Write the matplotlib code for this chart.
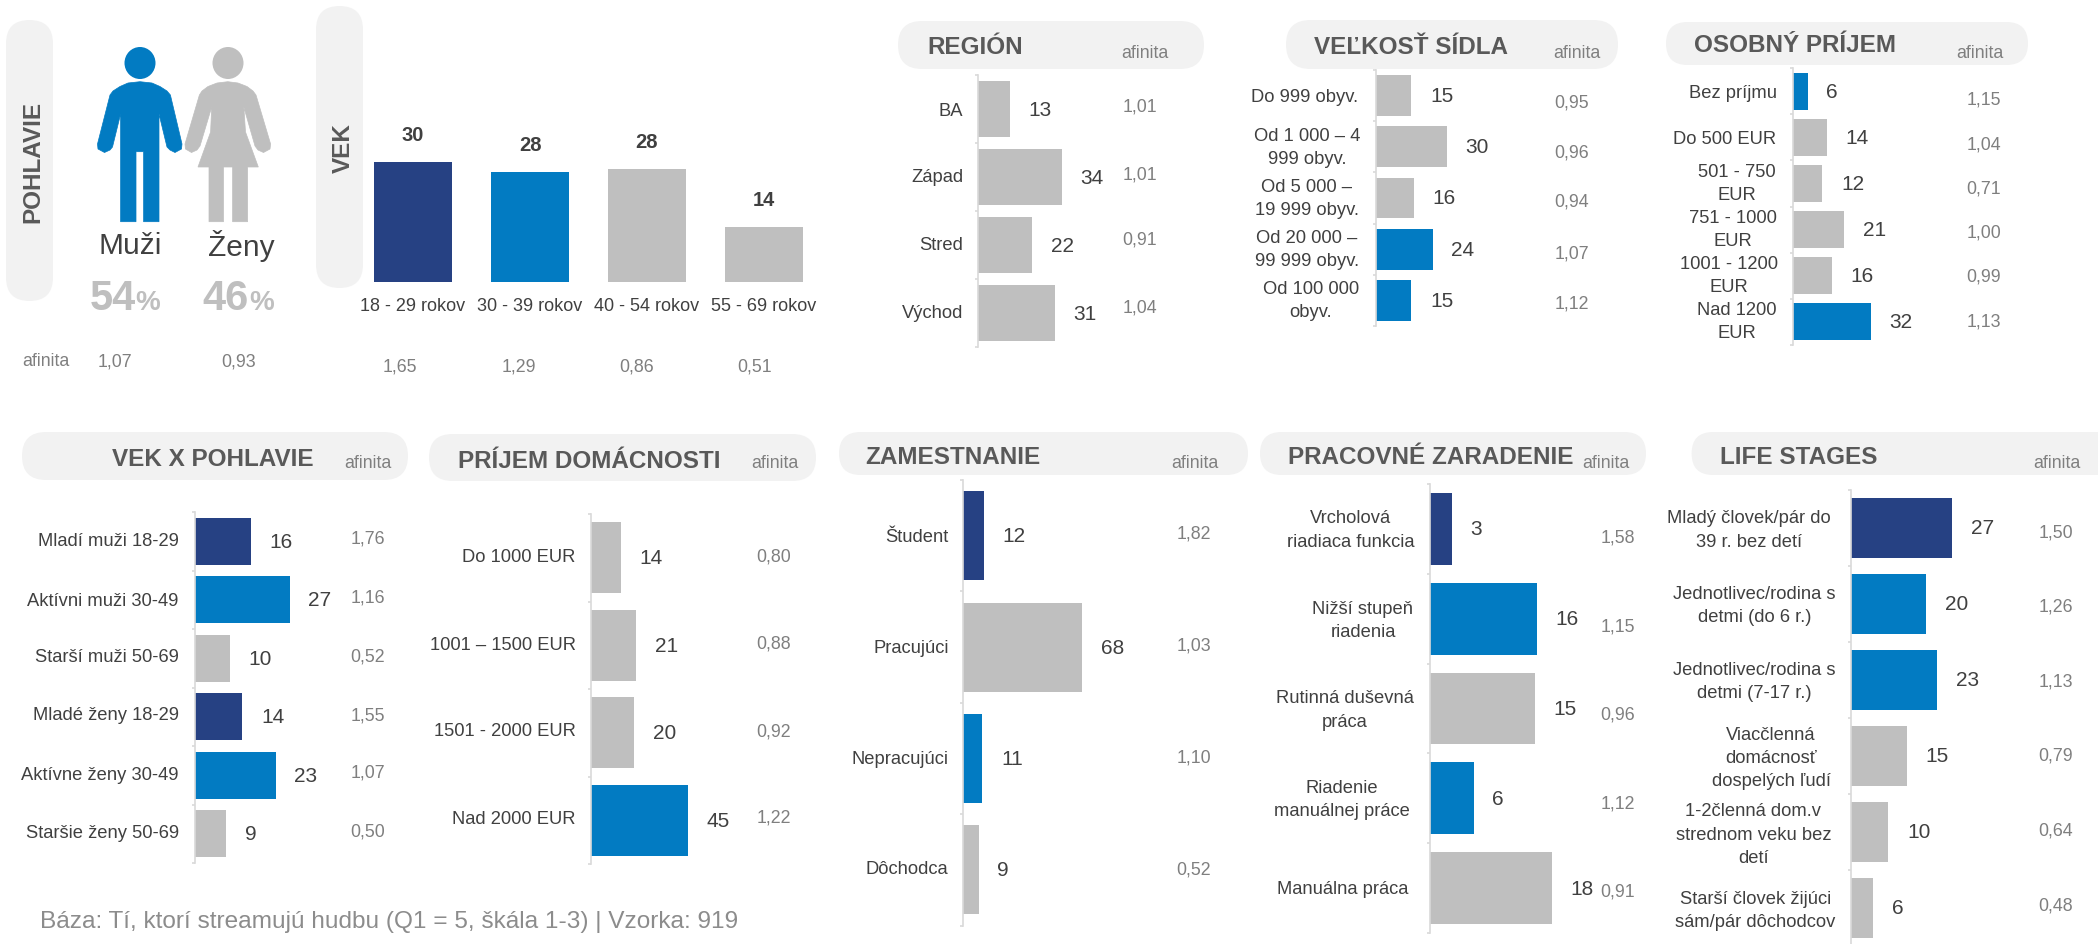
import matplotlib
matplotlib.use("Agg")
import matplotlib.pyplot as plt
from matplotlib.patches import FancyBboxPatch, Polygon, Ellipse

plt.rcParams['font.family'] = ['Liberation Sans', 'DejaVu Sans']

W, H = 2098, 945
NAVY, BLUE, GRAY = '#264183', '#027BC2', '#BFBFBF'
PILL, DARK, TITLE, MUTED, AXISC = '#F2F2F2', '#404040', '#595959', '#7F7F7F', '#D9D9D9'
C = {'n': NAVY, 'b': BLUE, 'g': GRAY}

# ---------- data ----------
gender_labels = ['Muži', 'Ženy']
gender_share = [54, 46]
gender_affinity = ['1,07', '0,93']

age_labels = ['18 - 29 rokov', '30 - 39 rokov', '40 - 54 rokov', '55 - 69 rokov']
age_values = [30, 27.6, 28.3, 13.8]
age_affinity = ['1,65', '1,29', '0,86', '0,51']
age_tone = list('nbgg')

region_labels = ['BA', 'Západ', 'Stred', 'Východ']
region_values = [13, 34, 22, 31]
region_affinity = ['1,01', '1,01', '0,91', '1,04']
region_tone = list('gggg')

town_labels = ['Do 999 obyv.', 'Od 1 000 – 4\n999 obyv.', 'Od 5 000 –\n19 999 obyv.',
               'Od 20 000 –\n99 999 obyv.', 'Od 100 000\nobyv.']
town_values = [15, 30, 16, 24, 15]
town_affinity = ['0,95', '0,96', '0,94', '1,07', '1,12']
town_tone = list('gggbb')

income_labels = ['Bez príjmu', 'Do 500 EUR', '501 - 750\nEUR', '751 - 1000\nEUR',
                 '1001 - 1200\nEUR', 'Nad 1200\nEUR']
income_values = [6, 14, 12, 21, 16, 32]
income_affinity = ['1,15', '1,04', '0,71', '1,00', '0,99', '1,13']
income_tone = list('bggggb')

agesex_labels = ['Mladí muži 18-29', 'Aktívni muži 30-49', 'Starší muži 50-69',
                 'Mladé ženy 18-29', 'Aktívne ženy 30-49', 'Staršie ženy 50-69']
agesex_values = [16, 27, 10, 13.5, 23, 9]
agesex_affinity = ['1,76', '1,16', '0,52', '1,55', '1,07', '0,50']
agesex_tone = list('nbgnbg')

household_labels = ['Do 1000 EUR', '1001 – 1500 EUR', '1501 - 2000 EUR', 'Nad 2000 EUR']
household_values = [14, 21, 20, 45]
household_affinity = ['0,80', '0,88', '0,92', '1,22']
household_tone = list('gggb')

job_labels = ['Študent', 'Pracujúci', 'Nepracujúci', 'Dôchodca']
job_values = [12, 68, 11, 9]
job_affinity = ['1,82', '1,03', '1,10', '0,52']
job_tone = list('ngbg')

position_labels = ['Vrcholová\nriadiaca funkcia', 'Nižší stupeň\nriadenia',
                   'Rutinná duševná\npráca', 'Riadenie\nmanuálnej práce', 'Manuálna práca']
position_values = [3.2, 15.7, 15.45, 6.4, 17.9]
position_affinity = ['1,58', '1,15', '0,96', '1,12', '0,91']
position_tone = list('nbgbg')

life_labels = ['Mladý človek/pár do\n39 r. bez detí', 'Jednotlivec/rodina s\ndetmi (do 6 r.)',
               'Jednotlivec/rodina s\ndetmi (7-17 r.)', 'Viacčlenná\ndomácnosť\ndospelých ľudí',
               '1-2členná dom.v\nstrednom veku bez\ndetí', 'Starší človek žijúci\nsám/pár dôchodcov']
life_values = [27, 20, 23, 15, 10, 6]
life_affinity = ['1,50', '1,26', '1,13', '0,79', '0,64', '0,48']
life_tone = list('nbbggg')

footnote = 'Báza: Tí, ktorí streamujú hudbu (Q1 = 5, škála 1-3) | Vzorka: 919'

# ---------- layout (pixels) ----------
fig = plt.figure(figsize=(W / 100, H / 100), dpi=100, facecolor='white')
ov = fig.add_axes([0, 0, 1, 1], zorder=5)
ov.set_xlim(0, W); ov.set_ylim(H, 0); ov.axis('off'); ov.patch.set_alpha(0)

def rect(x0, x1, y0, y1):
    return [x0 / W, 1 - y1 / H, (x1 - x0) / W, (y1 - y0) / H]

def pill(x0, x1, y0, y1):
    r = min(x1 - x0, y1 - y0) / 2
    ov.add_patch(FancyBboxPatch((x0, y0), x1 - x0, y1 - y0,
                                boxstyle=f'round,pad=0,rounding_size={r}', fc=PILL, ec='none', zorder=1))

def hpanel(title, labels, values, affinity, tone, ax_x, top, bottom, unit, frac,
           pill_box, title_x, title_y, af_x, af_y, lab_x, lab_y, aff_x, aff_y, ha='right'):
    pill(*pill_box)
    ov.text(title_x, title_y + 2, title, fontsize=17.5, fontweight='bold', color=TITLE, va='center', ha='left', zorder=3)
    ov.text(af_x, af_y + 1, 'afinita', fontsize=12.8, color=MUTED, va='center', ha='center', zorder=3)
    width = 260
    ax = fig.add_axes(rect(ax_x + 1, ax_x + 1 + width, top, bottom), zorder=2)
    n = len(values)
    ax.set_xlim(0, width / unit); ax.set_ylim(n - 0.5, -0.5)
    ax.barh(range(n), values, height=frac, color=[C[t] for t in tone], linewidth=0)
    for s in ('top', 'right', 'bottom'):
        ax.spines[s].set_visible(False)
    ax.spines['left'].set_color(AXISC); ax.spines['left'].set_linewidth(1.2)
    ax.set_xticks([])
    ax.set_yticks([i - 0.5 for i in range(n + 1)], labels=[])
    ax.tick_params(axis='y', length=2.5, width=1.2, color=AXISC)
    ax.patch.set_alpha(0)
    for i, v in enumerate(values):
        ax.annotate(f'{v:.0f}', (v, i), xytext=(13.5, 0), textcoords='offset points',
                    fontsize=15, color=DARK, va='center', ha='left', annotation_clip=False)
    xs = lab_x if isinstance(lab_x, list) else [lab_x] * n
    for x, y, t in zip(xs, lab_y, labels):
        ov.text(x, y + 1, t, fontsize=13.2, color=DARK, ha=ha, va='center', ma='center', linespacing=1.5, zorder=3)
    for y, t in zip(aff_y, affinity):
        ov.text(aff_x, y + 1, t, fontsize=12.8, color=MUTED, ha='center', va='center', zorder=3)

# --- gender ---
pill(6, 53, 21, 302)
ov.text(33, 162, 'POHLAVIE', rotation=90, fontsize=17.5, fontweight='bold', color=TITLE, ha='center', va='center', zorder=3)
man = [(140, 82.7), (128, 84), (120, 87.5), (113, 92), (110, 96), (97.5, 145), (98, 150), (104.5, 153.5), (110, 151),
       (112.5, 148), (120.6, 115), (120.6, 222.7), (136, 222.7), (136, 152.7), (143.6, 152.7), (143.6, 222.7),
       (159, 222.7), (159, 115), (167, 148), (170, 151), (175, 153.5), (181.5, 150), (182, 145), (170.4, 96),
       (167, 92), (160, 87.5), (152, 84)]
woman = [(227.8, 82.7), (217, 84), (208, 87.5), (202, 92), (199.4, 96), (185, 145), (185.5, 150), (191.5, 153.5),
         (197, 151), (200, 147), (211.7, 108), (210.6, 133), (198, 168), (209, 168), (209, 222.7), (223.5, 222.7),
         (223.5, 168), (232.6, 168), (232.6, 222.7), (247.6, 222.7), (247.6, 168), (258.3, 168), (245.5, 133),
         (243.8, 108), (255, 147), (258, 151), (263.5, 153.5), (270, 150), (270.6, 145), (256, 96), (253, 92),
         (247, 87.5), (238, 84)]
for pts, cx, col in ((man, 140, BLUE), (woman, 228, GRAY)):
    ov.add_patch(Polygon(pts, closed=True, fc=col, ec=col, lw=0.5, zorder=3))
    ov.add_patch(Ellipse((cx, 64), 31, 32, fc=col, ec='none', zorder=3))
for x, t in zip((130, 241), gender_labels):
    ov.text(x, 246, t, fontsize=21.5, color=DARK, ha='center', va='center', zorder=3)
for x, xp, v in zip((89.5, 202.6), (135.5, 249.5), gender_share):
    ov.text(x, 310, f'{v}', fontsize=30, fontweight='bold', color=GRAY, ha='left', va='baseline', zorder=3)
    ov.text(xp, 310, '%', fontsize=20, fontweight='bold', color=GRAY, ha='left', va='baseline', zorder=3)
ov.text(22.5, 362, 'afinita', fontsize=12.8, color=MUTED, ha='left', va='center', zorder=3)
for x, t in zip((115, 239), gender_affinity):
    ov.text(x, 362, t, fontsize=12.8, color=MUTED, ha='center', va='center', zorder=3)

# --- age ---
pill(316, 363, 7, 289)
ov.text(343, 148, 'VEK', rotation=90, fontsize=17.5, fontweight='bold', color=TITLE, ha='center', va='center', zorder=3)
axv = fig.add_axes(rect(354.5, 822.5, 123, 283), zorder=2)
axv.bar(range(4), age_values, width=0.667, color=[C[t] for t in age_tone], linewidth=0)
axv.set_xlim(-0.5, 3.5); axv.set_ylim(0, 40)
for s in axv.spines.values():
    s.set_visible(False)
axv.set_yticks([])
axv.set_xticks(range(4), labels=age_labels, fontsize=13, color=DARK)
axv.tick_params(axis='x', length=0, pad=10.5)
axv.patch.set_alpha(0)
for i, v in enumerate(age_values):
    axv.annotate(f'{v:.0f}', (i, v), xytext=(0, 19.5), textcoords='offset points', fontsize=14.5,
                 fontweight='bold', color=DARK, ha='center', va='center', annotation_clip=False)
for x, t in zip((400, 519, 637, 755), age_affinity):
    ov.text(x, 367, t, fontsize=12.8, color=MUTED, ha='center', va='center', zorder=3)

# --- horizontal panels ---
hpanel('REGIÓN', region_labels, region_values, region_affinity, region_tone,
       977, 76, 348, 2.47, 0.81, (898, 1204, 22, 70), 927, 46, 1145, 52,
       963, [110, 177, 244, 312], 1139.5, [106, 174, 239, 307])
hpanel('VEĽKOSŤ SÍDLA', town_labels, town_values, town_affinity, town_tone,
       1375, 71, 327, 2.36, 0.8, (1286, 1618, 21, 70), 1314, 46, 1577, 53,
       [1305, 1307, 1307, 1307, 1311], [96, 147, 198, 249, 300], 1572, [102, 152, 201, 253, 303], ha='center')
hpanel('OSOBNÝ PRÍJEM', income_labels, income_values, income_affinity, income_tone,
       1792, 69, 346, 2.43, 0.8, (1666, 2028, 23, 66), 1694, 44, 1979.5, 53,
       [1733, 1724.6, 1737, 1733, 1729, 1737], [92, 138, 183, 229, 275, 321], 1984, [99, 144, 188, 232, 276, 321], ha='center')
hpanel('VEK X POHLAVIE', agesex_labels, agesex_values, agesex_affinity, agesex_tone,
       193.7, 513, 864, 3.52, 0.8, (22, 408, 433, 481), 112, 457.5, 367.6, 462,
       178.7, [541, 600, 657, 715, 775, 833], 367.6, [538, 597, 656, 715, 772, 831])
hpanel('PRÍJEM DOMÁCNOSTI', household_labels, household_values, household_affinity, household_tone,
       590, 515, 865, 2.15, 0.81, (429, 816, 435, 482), 458.5, 459.5, 775, 462,
       575.5, [557, 644, 731, 819], 774, [555.6, 642.6, 730.7, 817.4])
hpanel('ZAMESTNANIE', job_labels, job_values, job_affinity, job_tone,
       962, 481, 926.5, 1.75, 0.8, (839, 1248, 433, 476), 865.6, 456, 1195, 463,
       948.6, [536, 647.6, 759, 868.6], 1193.7, [533, 645, 757, 868.6])
hpanel('PRACOVNÉ ZARADENIE', position_labels, position_values, position_affinity, position_tone,
       1429, 485, 934, 6.8, 0.8, (1260, 1646, 433, 476), 1288, 456, 1605.6, 462,
       [1350.6, 1363, 1344.5, 1342, 1343], [529.5, 620, 709.6, 799, 889], 1617.7, [537, 625.6, 713.6, 802.6, 890.7], ha='center')
hpanel('LIFE STAGES', life_labels, life_values, life_affinity, life_tone,
       1850, 491, 947, 3.74, 0.8, (1691.6, 2140, 433, 476), 1719.5, 456, 2057, 462,
       [1749, 1754.5, 1754.5, 1771, 1753.4, 1755.6], [529.5, 605, 681, 757.5, 834, 910], 2055.5, [531.5, 606, 681, 755, 830, 905], ha='center')

ov.text(40, 922, footnote, fontsize=17.6, color='#8C8C8C', ha='left', va='center', zorder=3)

fig.savefig('out.png', dpi=100)
